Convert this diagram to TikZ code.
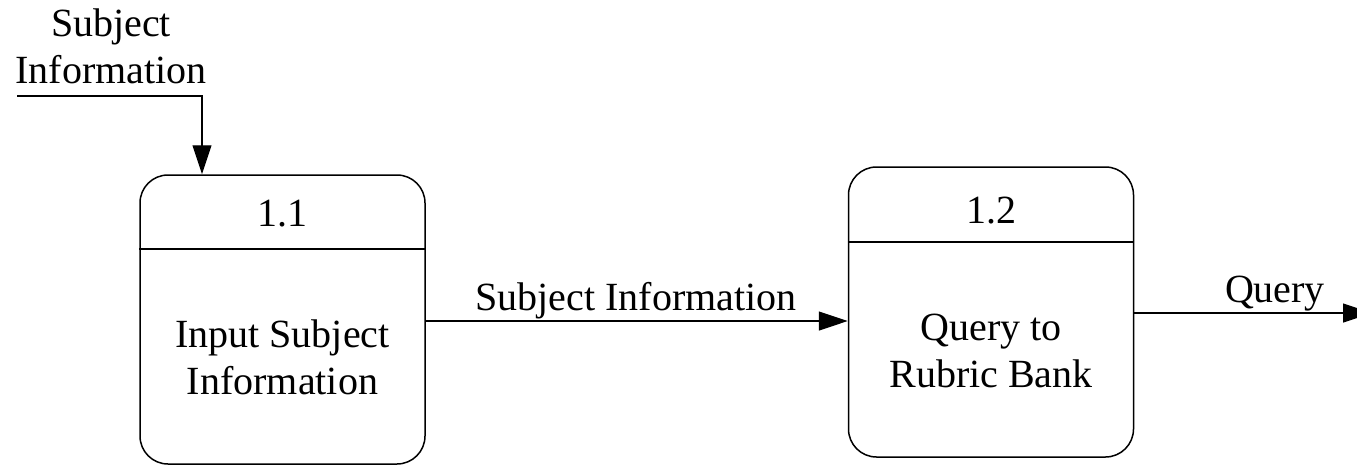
\documentclass[tikz,border=0pt]{standalone}
\usepackage{fontspec}
\setmainfont{Liberation Serif}
\usetikzlibrary{arrows.meta}
\tikzset{
    proc/.style={draw, line width=1.5pt, rounded corners=28pt, minimum width=285pt},
    flow/.style={-{Triangle[length=29pt,width=19pt]}, line width=1.2pt},
    lbl/.style={inner sep=0pt, align=center, anchor=base}
}
\begin{document}
\begin{tikzpicture}[x=1pt, y=-1pt, font=\fontsize{40}{47}\selectfont]
            \useasboundingbox (0,0) rectangle (1357,466);
            % Processes
            \node[proc, minimum height=289pt] (proc1) at (282.5,319.5) {};
            \node[proc, minimum height=290pt] (proc2) at (991,312) {};
            \draw[line width=1.5pt] (proc1.west |- 0,249) -- (proc1.east |- 0,249);
            \draw[line width=1.5pt] (proc2.west |- 0,242) -- (proc2.east |- 0,242);
            \node[lbl] (id1) at (282.5,226) {1.1};
            \node[lbl] (id2) at (991,223) {1.2};
            \node[lbl] (name1) at (282.5,394) {Input Subject\\Information};
            \node[lbl] (name2) at (991,387) {Query to\\Rubric Bank};
            % Data flows
            \coordinate (src) at (17,96);
            \coordinate (sink) at (1372,313);
            \draw[flow] (src) -| ([xshift=-80.5pt]proc1.north);
            \draw[flow] ([yshift=-1.5pt]proc1.east) -- ([yshift=-9pt]proc2.west);
            \draw[flow] ([yshift=-1pt]proc2.east) -- (sink);
            \node[lbl] (in) at (111,83) {Subject\\Information};
            \node[lbl] (flowA) at (636,310) {Subject Information};
            \node[lbl] (flowB) at (1275,302) {Query};
        \end{tikzpicture}
\end{document}
